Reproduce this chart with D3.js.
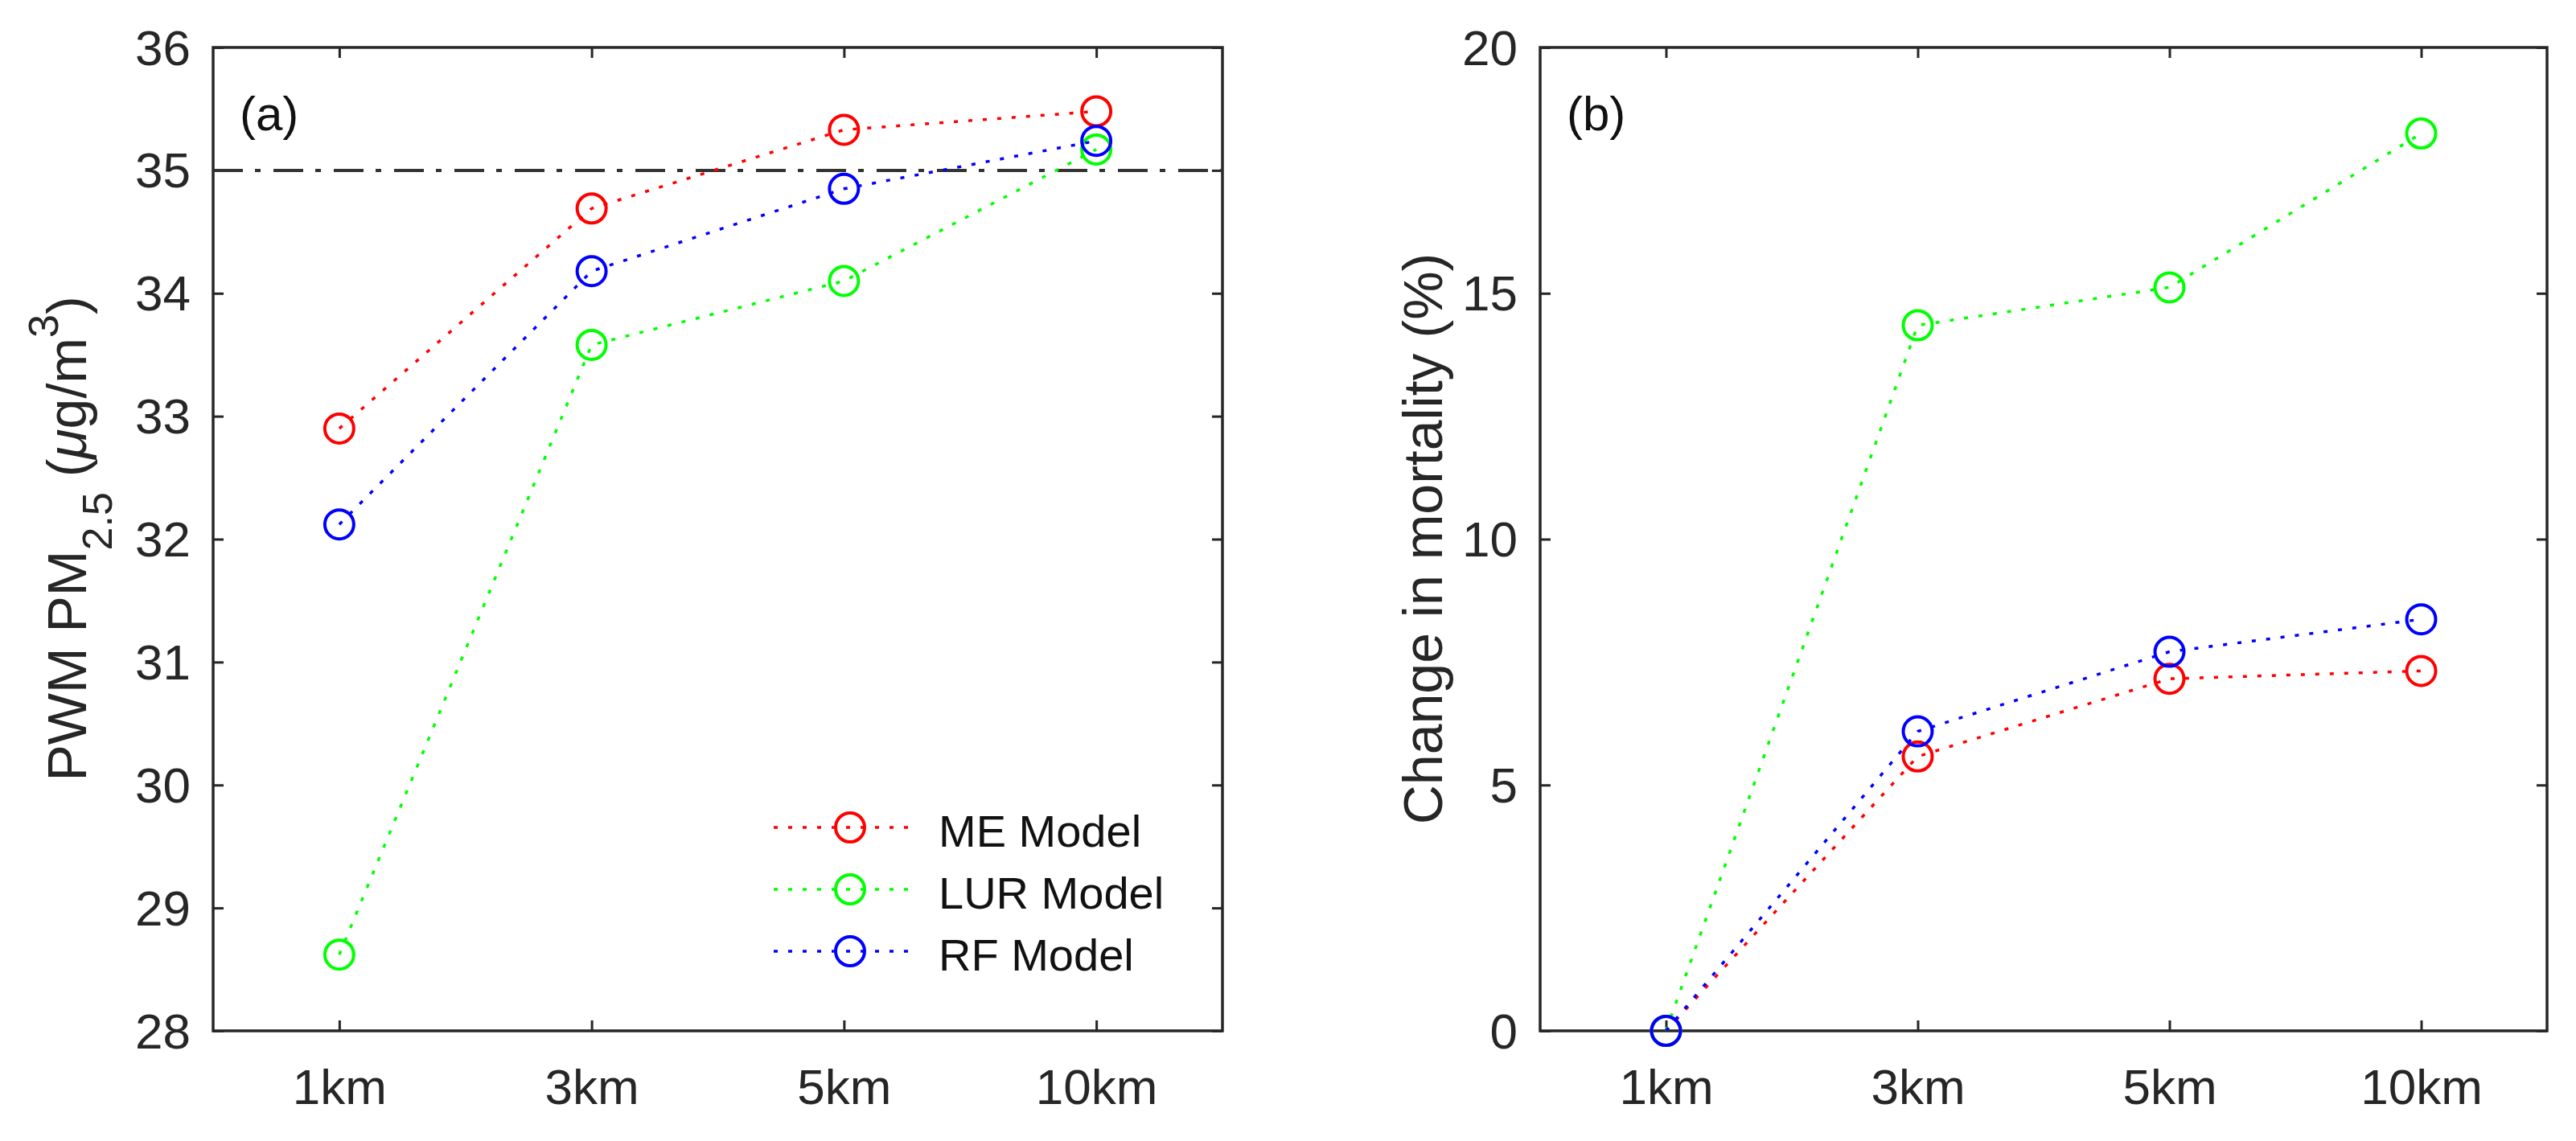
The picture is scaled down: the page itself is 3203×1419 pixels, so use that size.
<!DOCTYPE html>
<html>
<head>
<meta charset="utf-8">
<script src="https://cdn.jsdelivr.net/npm/d3@7"></script>
<style>
  body { margin: 0; background: #fff; }
  svg { display: block; font-family: "Liberation Sans", Arial, sans-serif; }
</style>
</head>
<body>
<svg id="chart"></svg>
<script>
// grid resolutions on the x axis
const categories = ["1km", "3km", "5km", "10km"];

// panel (a): population weighted mean PM2.5
const pwmME = [32.9, 34.69, 35.33, 35.48];
const pwmLUR = [28.62, 33.58, 34.1, 35.17];
const pwmRF = [32.12, 34.18, 34.85, 35.24];
const pwmTicks = [28, 29, 30, 31, 32, 33, 34, 35, 36];
const pwmThreshold = 35;

// panel (b): change in mortality (%)
const mortME = [0, 5.58, 7.16, 7.32];
const mortLUR = [0, 14.35, 15.12, 18.25];
const mortRF = [0, 6.09, 7.71, 8.37];
const mortTicks = [0, 5, 10, 15, 20];

const seriesNames = ["ME Model", "LUR Model", "RF Model"];
const seriesColors = ["#ff0000", "#00ff00", "#0000ff"];

const width = 3203;
const height = 1419;
const axisColor = "#262626";

const svg = d3.select("#chart").attr("width", width).attr("height", height);

function drawPanel(opts) {
  const { left, right, top, bottom, domain, ticks, series, label } = opts;

  const x = d3.scalePoint().domain(categories).range([left, right]).padding(0.5);
  const y = d3.scaleLinear().domain(domain).range([bottom, top]);

  const g = svg.append("g");

  // ticks pointing inward on all four sides
  const xb = g.append("g")
    .attr("transform", `translate(0,${bottom})`)
    .call(d3.axisBottom(x).tickSizeInner(-13).tickSizeOuter(0).tickPadding(47));
  g.append("g")
    .attr("transform", `translate(0,${top})`)
    .call(d3.axisTop(x).tickSizeInner(-13).tickSizeOuter(0).tickFormat(""));
  const yl = g.append("g")
    .attr("transform", `translate(${left},0)`)
    .call(d3.axisLeft(y).tickValues(ticks).tickSizeInner(-13).tickSizeOuter(0).tickPadding(28));
  g.append("g")
    .attr("transform", `translate(${right},0)`)
    .call(d3.axisRight(y).tickValues(ticks).tickSizeInner(-13).tickSizeOuter(0).tickFormat(""));

  g.selectAll(".domain").remove();
  g.selectAll(".tick line").attr("stroke", axisColor).attr("stroke-width", 3);
  g.selectAll(".tick text")
    .attr("fill", axisColor)
    .style("font-size", "62px")
    .style("font-family", "'Liberation Sans', Arial, sans-serif");
  yl.selectAll(".tick text").attr("dy", "0.34em");

  // box
  g.append("rect")
    .attr("x", left).attr("y", top)
    .attr("width", right - left).attr("height", bottom - top)
    .attr("fill", "none")
    .attr("stroke", axisColor)
    .attr("stroke-width", 3.5);

  if (opts.threshold !== undefined) {
    g.append("line")
      .attr("x1", left).attr("x2", right)
      .attr("y1", y(opts.threshold)).attr("y2", y(opts.threshold))
      .attr("stroke", "#333")
      .attr("stroke-width", 4)
      .attr("stroke-dasharray", "37 15 7 16");
  }

  const line = d3.line()
    .x((d, i) => x(categories[i]))
    .y(d => y(d));

  series.forEach((values, s) => {
    g.append("path")
      .datum(values)
      .attr("d", line)
      .attr("fill", "none")
      .attr("stroke", seriesColors[s])
      .attr("stroke-width", 3.5)
      .attr("stroke-dasharray", "5 13");
    g.selectAll(null)
      .data(values)
      .join("circle")
      .attr("cx", (d, i) => x(categories[i]))
      .attr("cy", d => y(d))
      .attr("r", 18)
      .attr("fill", "none")
      .attr("stroke", seriesColors[s])
      .attr("stroke-width", 4);
  });

  g.append("text")
    .attr("x", left + 33)
    .attr("y", top + 103)
    .attr("fill", "#111")
    .style("font-size", "60px")
    .text(label);

  return { g, x, y };
}

// (a)
const panelA = drawPanel({
  left: 265, right: 1520, top: 59, bottom: 1282,
  domain: [28, 36], ticks: pwmTicks,
  series: [pwmME, pwmLUR, pwmRF],
  threshold: pwmThreshold,
  label: "(a)"
});

// (b)
drawPanel({
  left: 1915, right: 3167, top: 59, bottom: 1282,
  domain: [0, 20], ticks: mortTicks,
  series: [mortME, mortLUR, mortRF],
  label: "(b)"
});

// y axis titles
const titleA = svg.append("text")
  .attr("transform", "translate(107,670) rotate(-90)")
  .attr("text-anchor", "middle")
  .attr("fill", axisColor)
  .style("font-size", "68px");
titleA.append("tspan").text("PWM PM");
titleA.append("tspan").attr("dy", 32).style("font-size", "52px").text("2.5");
titleA.append("tspan").attr("dy", -32).text(" (");
titleA.append("tspan").style("font-style", "italic").text("μ");
titleA.append("tspan").text("g/m");
titleA.append("tspan").attr("dy", -35).style("font-size", "52px").text("3");
titleA.append("tspan").attr("dy", 35).text(")");

svg.append("text")
  .attr("transform", "translate(1793,670) rotate(-90)")
  .attr("text-anchor", "middle")
  .attr("fill", axisColor)
  .style("font-size", "68px")
  .text("Change in mortality (%)");

// legend inside panel (a)
const legendRows = [1029, 1106, 1183];
const legend = svg.append("g");
seriesNames.forEach((name, s) => {
  const ry = legendRows[s];
  legend.append("line")
    .attr("x1", 962).attr("x2", 1138)
    .attr("y1", ry).attr("y2", ry)
    .attr("stroke", seriesColors[s])
    .attr("stroke-width", 3.5)
    .attr("stroke-dasharray", "5 13");
  legend.append("circle")
    .attr("cx", 1057).attr("cy", ry).attr("r", 18)
    .attr("fill", "none")
    .attr("stroke", seriesColors[s])
    .attr("stroke-width", 4);
  legend.append("text")
    .attr("x", 1167).attr("y", ry + 24)
    .attr("fill", "#111")
    .style("font-size", "56px")
    .text(name);
});
</script>
</body>
</html>
